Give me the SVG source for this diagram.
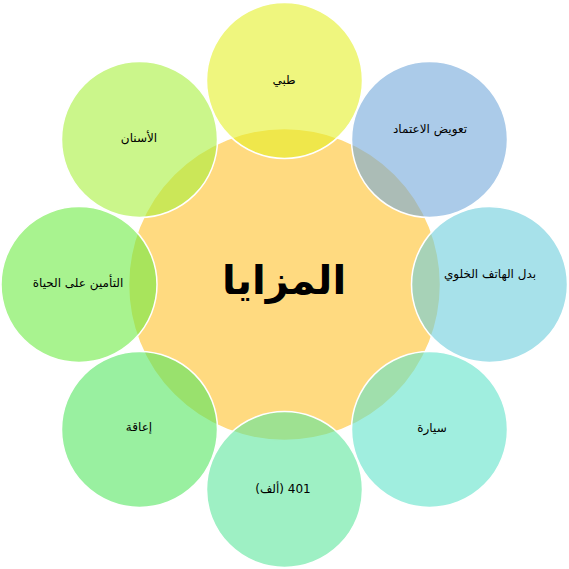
<svg xmlns="http://www.w3.org/2000/svg" width="569" height="569" viewBox="0 0 569 569">
<style>
.c{stroke:#ffffff;stroke-width:1.5;fill-opacity:0.6}
.t{font-family:"DejaVu Sans","Liberation Sans",sans-serif;font-size:12px;fill:#000;text-anchor:middle;dominant-baseline:central}
.h{font-family:"DejaVu Sans","Liberation Sans",sans-serif;font-size:40px;font-weight:bold;fill:#000;text-anchor:middle;dominant-baseline:central}
</style>
<rect width="569" height="569" fill="#ffffff"/>
<g id="center">
<circle cx="284.5" cy="284.5" r="156" fill="#ffda80" stroke="#ffffff" stroke-width="1.5"/>
<text class="h" x="284" y="280" direction="rtl">المزايا</text>
</g>
<g id="n-topleft">
<circle class="c" cx="139.5" cy="139.5" r="78" fill="#a8f03e"/>
<text class="t" x="139" y="138" direction="rtl">الأسنان</text>
</g>
<g id="n-top">
<circle class="c" cx="284.5" cy="80.5" r="78" fill="#e4f028"/>
<text class="t" x="284" y="80" direction="rtl">طبي</text>
</g>
<g id="n-topright">
<circle class="c" cx="429.5" cy="139.5" r="78" fill="#73a8da"/>
<text class="t" x="430" y="129" direction="rtl">تعويض الاعتماد</text>
</g>
<g id="n-right">
<circle class="c" cx="489.5" cy="284.5" r="78" fill="#6ccddc"/>
<text class="t" x="490" y="274" direction="rtl">بدل الهاتف الخلوي</text>
</g>
<g id="n-bottomright">
<circle class="c" cx="429.5" cy="429.5" r="78" fill="#61e3ca"/>
<text class="t" x="432" y="428" direction="rtl">سيارة</text>
</g>
<g id="n-bottom">
<circle class="c" cx="284.5" cy="489.5" r="78" fill="#5de69d"/>
<text class="t" x="283" y="489" direction="rtl">401 (ألف)</text>
</g>
<g id="n-bottomleft">
<circle class="c" cx="139.5" cy="429.5" r="78" fill="#55e661"/>
<text class="t" x="139" y="427" direction="rtl">إعاقة</text>
</g>
<g id="n-left">
<circle class="c" cx="79" cy="284.5" r="78" fill="#6eeb44"/>
<text class="t" x="78" y="283" direction="rtl">التأمين على الحياة</text>
</g>
</svg>
